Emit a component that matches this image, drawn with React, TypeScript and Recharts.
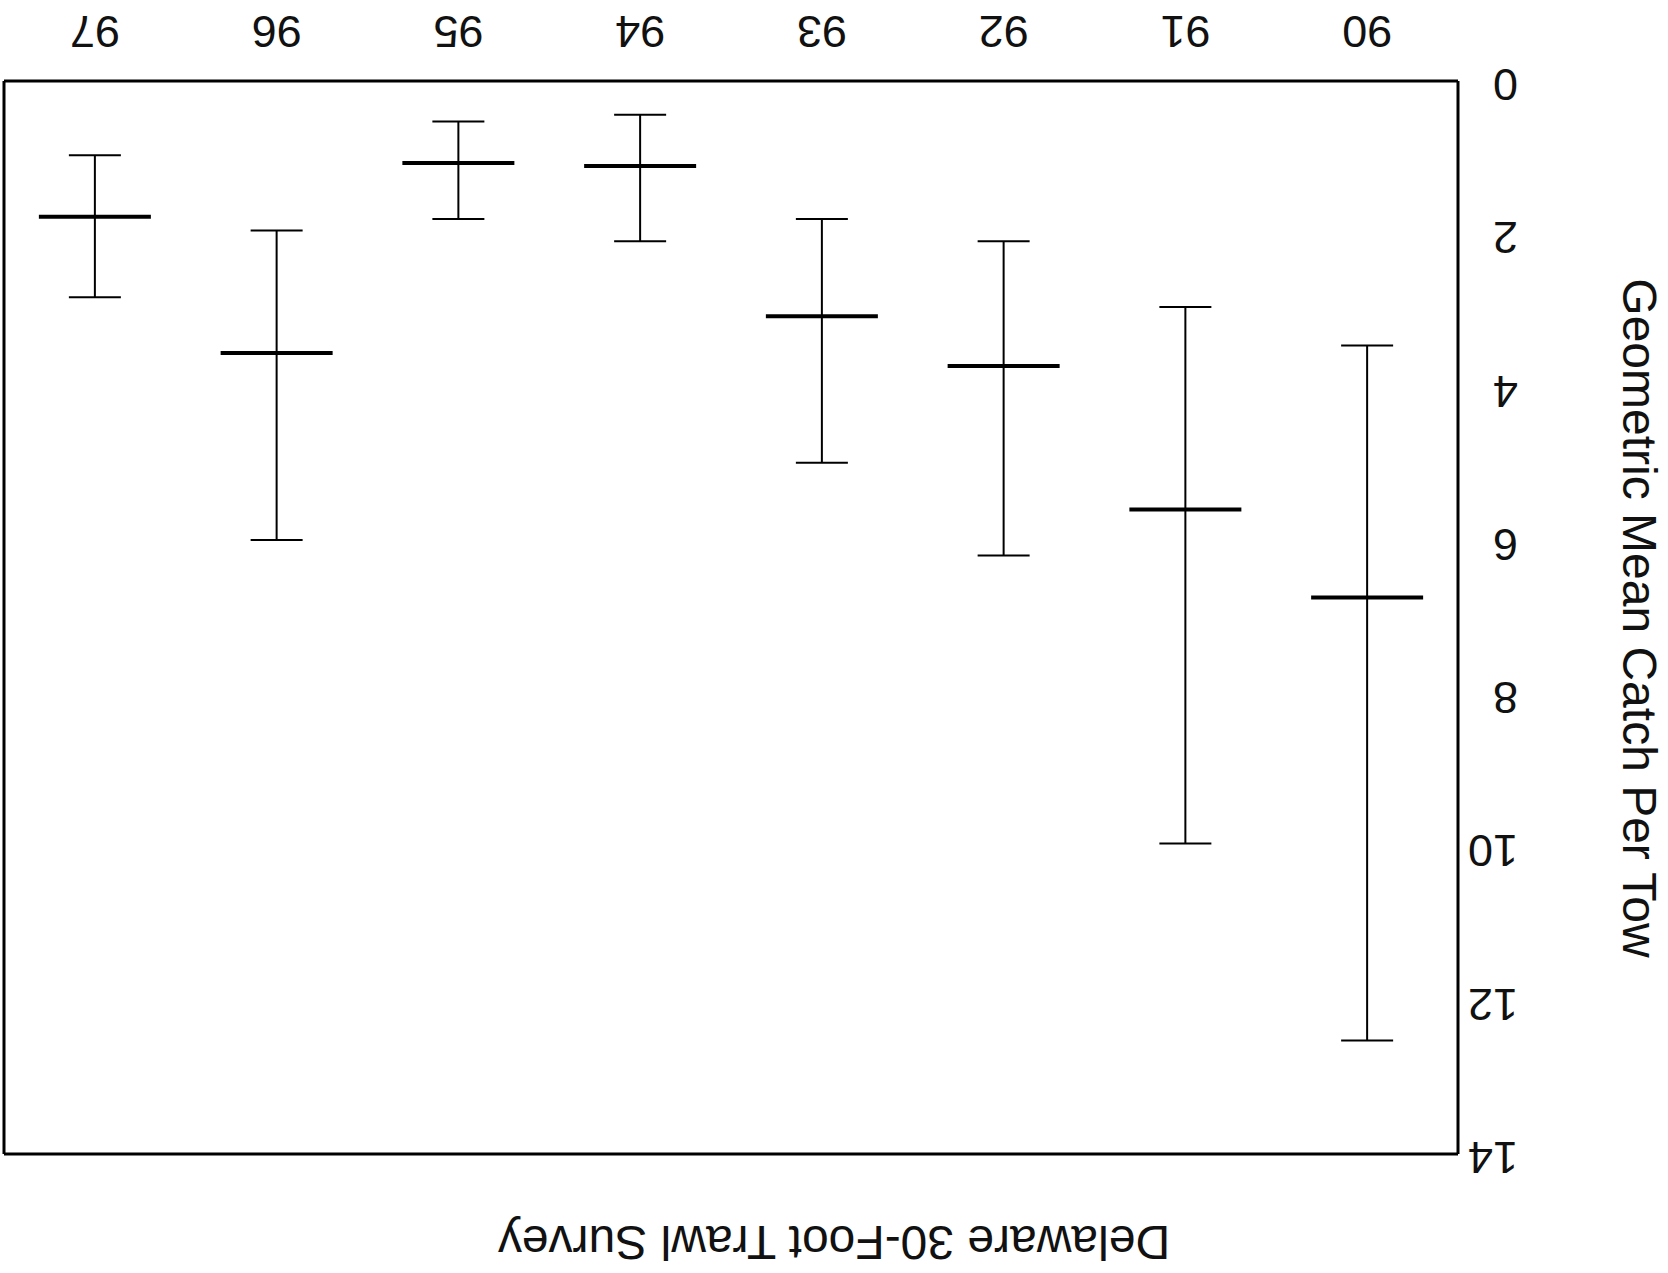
import { ComposedChart, Scatter, ErrorBar, XAxis, YAxis } from 'recharts'

// survey years, left to right before the page is turned over
const YEARS = ['90', '91', '92', '93', '94', '95', '96', '97']
const MEANS = [6.74, 5.59, 3.72, 3.07, 1.11, 1.07, 3.55, 1.77]
const LOWER = [3.45, 2.95, 2.09, 1.8, 0.44, 0.53, 1.95, 0.97]
const UPPER = [12.52, 9.95, 6.19, 4.98, 2.09, 1.8, 5.99, 2.82]
const Y_TICKS = [0, 2, 4, 6, 8, 10, 12, 14]

const data = YEARS.map((year, i) => ({
  year,
  mean: MEANS[i],
  err: [MEANS[i] - LOWER[i], UPPER[i] - MEANS[i]],
}))

const FONT = '"Liberation Sans", Arial, sans-serif'

const MeanMark = (props: any) => {
  const { cx, cy } = props
  return <line x1={cx - 56} x2={cx + 56} y1={cy} y2={cy} stroke="#000" strokeWidth={4} />
}

const XTick = ({ x, y, payload }: any) => (
  <text x={x} y={y + 65} textAnchor="middle" fontSize={45} fill="#111" fontFamily={FONT}>
    {payload.value}
  </text>
)

const YTick = ({ x, y, payload }: any) => (
  <text x={x - 60} y={y + 12} textAnchor="start" fontSize={45} fill="#111" fontFamily={FONT}>
    {payload.value}
  </text>
)

export default function App() {
  return (
    <div
      style={{
        position: 'absolute',
        left: 0,
        top: 0,
        width: 1668,
        height: 1273,
        background: '#fff',
        fontFamily: FONT,
        transform: 'rotate(180deg)',
      }}
    >
      <ComposedChart
        width={1668}
        height={1273}
        data={data}
        margin={{ top: 118, right: 3, bottom: 21, left: 150 }}
      >
        <XAxis
          dataKey="year"
          scale="band"
          height={60}
          tickSize={0}
          tickMargin={0}
          tickLine={false}
          axisLine={{ stroke: '#000', strokeWidth: 3 }}
          tick={<XTick />}
          interval={0}
        />
        <XAxis
          xAxisId="top"
          dataKey="year"
          scale="band"
          orientation="top"
          height={1}
          tick={false}
          tickLine={false}
          axisLine={{ stroke: '#000', strokeWidth: 3 }}
        />
        <YAxis
          type="number"
          domain={[0, 14]}
          ticks={Y_TICKS}
          width={60}
          tickSize={0}
          tickMargin={0}
          tickLine={false}
          axisLine={{ stroke: '#000', strokeWidth: 3 }}
          tick={<YTick />}
          interval={0}
        />
        <YAxis
          yAxisId="right"
          orientation="right"
          type="number"
          domain={[0, 14]}
          width={1}
          tick={false}
          tickLine={false}
          axisLine={{ stroke: '#000', strokeWidth: 3 }}
        />
        <Scatter dataKey="mean" shape={<MeanMark />} isAnimationActive={false}>
          <ErrorBar
            dataKey="err"
            direction="y"
            width={26}
            stroke="#000"
            strokeWidth={2}
            isAnimationActive={false}
          />
        </Scatter>
      </ComposedChart>
      <div
        style={{
          position: 'absolute',
          left: 0,
          top: 7,
          width: 1668,
          textAlign: 'center',
          fontSize: 48,
          lineHeight: '48px',
          color: '#111',
        }}
      >
        Delaware 30-Foot Trawl Survey
      </div>
      <div
        style={{
          position: 'absolute',
          left: 29 - 400,
          top: 655 - 24,
          width: 800,
          height: 48,
          textAlign: 'center',
          fontSize: 48,
          lineHeight: '48px',
          color: '#111',
          transform: 'rotate(-90deg)',
        }}
      >
        Geometric Mean Catch Per Tow
      </div>
    </div>
  )
}
